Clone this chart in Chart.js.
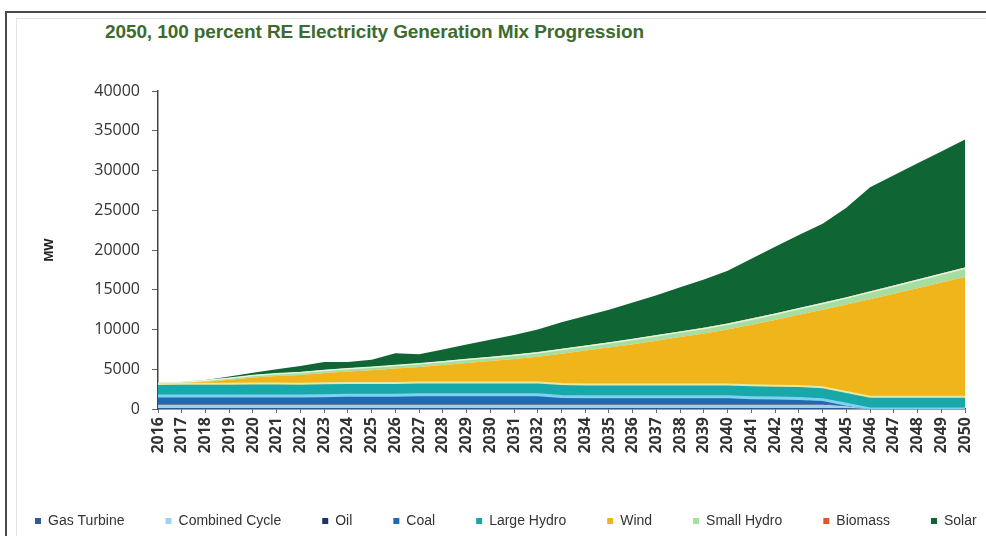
<!DOCTYPE html>
<html>
<head>
<meta charset="utf-8">
<script src="https://cdn.jsdelivr.net/npm/chart.js@4/dist/chart.umd.min.js"></script>
<style>
  html, body { margin: 0; padding: 0; background: #fff; overflow: hidden; }
  #wrap { position: relative; width: 986px; height: 536px; overflow: hidden; }
  #frame { position: absolute; left: 5px; top: 11px; width: 1200px; height: 700px; border: 2px solid #4a4a4a; box-sizing: border-box; }
  #inner { position: absolute; left: 16px; top: 18px; width: 1200px; height: 700px; border: 1px solid #e4e4e4; }
  #title { position: absolute; left: 105px; top: 21px; font: bold 19px 'Liberation Sans', sans-serif; color: #3d6b2e; white-space: nowrap; letter-spacing: -0.1px; }
  #graph { position: absolute; left: 0; top: 0; }
</style>
</head>
<body>
<div id="wrap">
  <div id="frame"></div>
  <div id="inner"></div>
  <div id="title">2050, 100 percent RE Electricity Generation Mix Progression</div>
  <canvas id="graph" width="1060" height="536"></canvas>
</div>
<script>
/* generation mix by source, MW */
var years = ['2016','2017','2018','2019','2020','2021','2022','2023','2024','2025','2026','2027',
  '2028','2029','2030','2031','2032','2033','2034','2035','2036','2037','2038','2039','2040',
  '2041','2042','2043','2044','2045','2046','2047','2048','2049','2050'];

var gasTurbine = [120,120,120,120,120,120,120,120,120,120,120,120,120,120,120,120,120,
  120,120,120,120,120,120,120,120,120,120,120,120,80,0,0,0,0,0];
var combinedCycle = [430,430,430,430,430,430,430,430,430,430,430,430,430,430,430,430,430,
  430,430,430,430,430,430,430,430,430,430,430,430,220,0,0,0,0,0];
var oil = [80,80,80,80,80,80,80,80,80,80,80,80,80,80,80,80,80,
  80,80,80,80,80,80,80,80,80,80,80,80,50,0,0,0,0,0];
var coal = [1000,1000,1000,1000,1020,1020,1000,1050,1100,1100,1100,1150,1150,1150,1150,1150,1150,
  950,900,900,900,900,900,900,900,800,750,700,550,250,0,0,0,0,0];
var largeHydro = [1500,1550,1550,1550,1550,1550,1550,1550,1550,1550,1550,1550,1550,1550,1550,1550,1550,
  1550,1550,1550,1550,1550,1550,1550,1550,1550,1550,1550,1550,1550,1550,1550,1550,1550,1550];
var wind = [0,100,250,500,750,950,1100,1300,1450,1600,1800,1950,2200,2450,2700,2950,3250,
  3820,4270,4670,5070,5520,5970,6420,6920,7620,8270,8970,9770,11000,12250,12950,13650,14350,15050];
var smallHydro = [100,100,150,200,250,280,300,320,340,360,380,400,420,440,460,480,500,
  520,540,560,580,600,620,640,660,700,720,750,780,800,900,950,1000,1050,1100];
var biomass = [30,20,30,30,40,40,40,50,50,50,50,50,50,60,60,60,60,
  70,70,70,70,70,70,70,80,80,80,80,80,80,100,100,100,100,100];
var solar = [0,0,40,190,310,530,780,1000,780,910,1490,1170,1500,1820,2150,2480,2860,
  3360,3740,4120,4600,5030,5560,6090,6660,7520,8400,9220,9940,11270,13100,13850,14600,15350,16100];

var yTicks = [0,5000,10000,15000,20000,25000,30000,35000,40000];

function area(label, data, color, edge, edgeWidth, idx) {
  return {
    label: label,
    data: data,
    backgroundColor: color,
    borderColor: edge || color,
    borderWidth: edgeWidth || 0,
    fill: idx === 0 ? 'origin' : '-1',
    pointRadius: 0,
    tension: 0
  };
}

var ctx = document.getElementById('graph');
var chart = new Chart(ctx, {
  type: 'line',
  data: {
    labels: years,
    datasets: [
      area('Gas Turbine', gasTurbine, '#2f5a92', null, 0, 0),
      area('Combined Cycle', combinedCycle, '#9ad3ee', null, 0, 1),
      area('Oil', oil, '#1c3561', null, 0, 2),
      area('Coal', coal, '#1f6ab4', '#7fd2ee', 3, 3),
      area('Large Hydro', largeHydro, '#19a8aa', '#e6e9a2', 2, 4),
      area('Wind', wind, '#f1b51c', null, 0, 5),
      area('Small Hydro', smallHydro, '#a6dea2', '#e2f5dc', 1.5, 6),
      area('Biomass', biomass, '#e0572c', null, 0, 7),
      area('Solar', solar, '#0f6634', null, 0, 8)
    ]
  },
  options: {
    responsive: false,
    animation: false,
    layout: { padding: { left: -6, right: 0, top: 91, bottom: 3 } },
    plugins: {
      title: { display: false },
      tooltip: { enabled: false },
      legend: {
        position: 'bottom',
        align: 'start',
        maxHeight: 60,
        labels: {
          boxWidth: 6,
          boxHeight: 6,
          padding: 41,
          color: '#333',
          font: { family: "'Liberation Sans', sans-serif", size: 14 },
          generateLabels: function (c) {
            var items = Chart.defaults.plugins.legend.labels.generateLabels(c);
            items.forEach(function (it) { it.lineWidth = 0; it.strokeStyle = it.fillStyle; });
            return items;
          }
        }
      }
    },
    scales: {
      x: {
        grid: { display: true, drawOnChartArea: false, tickLength: 4, color: '#666' },
        border: { color: '#444', width: 1.5 },
        ticks: {
          autoSkip: false, minRotation: 90, maxRotation: 90, padding: 4,
          color: '#333', font: { family: "'Open Sans', sans-serif", size: 16, weight: 'bold' }
        },
        afterFit: function (s) { s.height = 64; }
      },
      y: {
        stacked: true,
        min: 0,
        max: 40000,
        afterBuildTicks: function (s) { s.ticks = yTicks.map(function (v) { return { value: v }; }); },
        grid: { display: true, drawOnChartArea: false, tickLength: 6, color: '#666' },
        border: { color: '#444', width: 1.5 },
        ticks: {
          padding: 12, color: '#333',
          font: { family: "'Open Sans', sans-serif", size: 16 },
          callback: function (v) { return v; }
        },
        title: {
          display: true, text: 'MW', color: '#222',
          font: { family: "'Liberation Sans', sans-serif", size: 13, weight: 'bold' },
          padding: { top: 48, bottom: 0 }
        },
        afterFit: function (s) { s.width = 164; }
      },
      yRight: {
        position: 'right',
        display: true,
        grid: { display: false },
        border: { display: false },
        ticks: { display: false },
        afterFit: function (s) { s.width = 95; }
      }
    }
  }
});
</script>
</body>
</html>
